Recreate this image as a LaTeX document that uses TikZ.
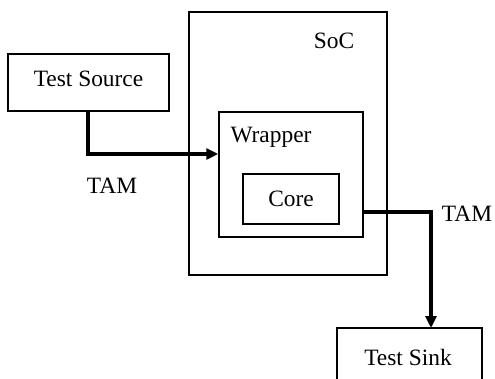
\documentclass[tikz,border=0pt]{standalone}
\usepackage{fontspec}
\setmainfont{Liberation Serif}
\usetikzlibrary{arrows.meta}
\begin{document}
\begin{tikzpicture}[x=1pt,y=-1pt,
  box/.style={draw, line width=1.5pt, inner sep=0pt},
  lbl/.style={font=\fontsize{23.4}{28}\selectfont, inner sep=0pt},
  bus/.style={line width=3.5pt, -{Triangle[length=12pt,width=11pt]}}]
\useasboundingbox (0,0) rectangle (495,379);
\begin{scope}
\clip (0,0) rectangle (495,379);
\draw[box] (189,12) rectangle (387,275);
\node[box, minimum width=144pt, minimum height=125pt] (wrap) at (291,174.5) {};
\node[box, minimum width=96pt, minimum height=50pt] (core) at (291,199) {};
\node[box, minimum width=161pt, minimum height=57pt] (src) at (88.5,82.5) {};
\draw[box] (337,400) |- (482,328) -- (482,400);
\coordinate (sinktop) at (431,328);
\node[lbl] (soc) at (334,41) {SoC};
\node[lbl] at (271,137) {Wrapper};
\node[lbl] at (291,199) {Core};
\node[lbl] at (88.5,79) {Test Source};
\node[lbl] at (408,357) {Test Sink};
\node[lbl] at (112,186) {TAM};
\node[lbl] at (467,214) {TAM};
\coordinate (a1) at (88,111);
\draw[bus] (a1) |- (wrap.west |- 0,154);
\coordinate (a2) at (363,212);
\draw[bus] (a2) -| (sinktop);
\end{scope}
\end{tikzpicture}
\end{document}
